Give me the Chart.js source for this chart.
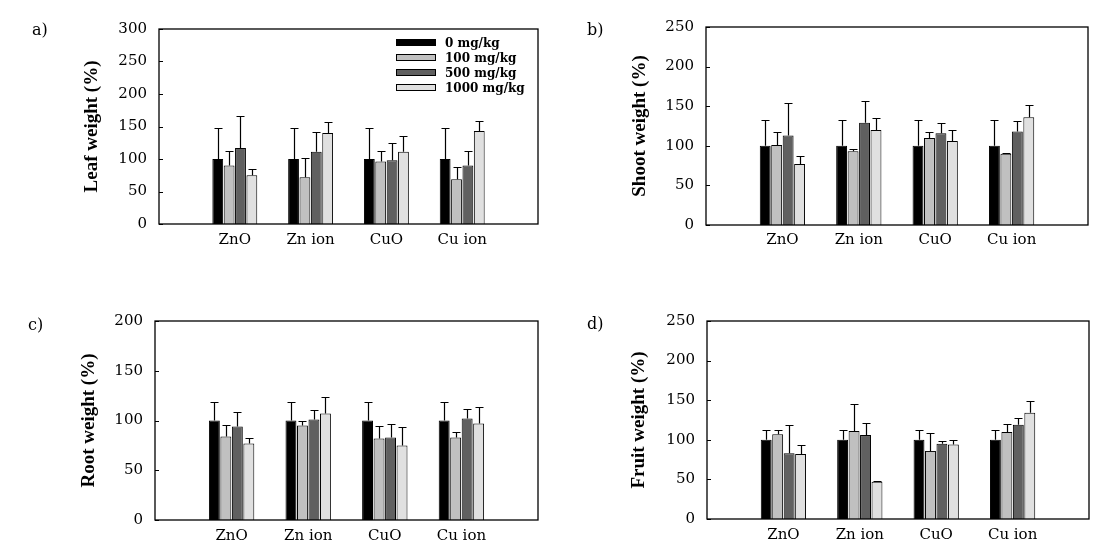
<!DOCTYPE html>
<html lang="en">
<head>
    <meta charset="UTF-8">
    <title>Leaf, shoot, root and fruit weight</title>
    <style>
        body {
            margin: 0;
            background: #fff;
            width: 1120px;
            height: 553px;
            position: relative;
            overflow: hidden;
        }

        canvas {
            position: absolute;
        }

        .panel-label {
            position: absolute;
            font-family: 'DejaVu Serif', serif;
            font-size: 16px;
            color: #000;
            line-height: 1;
        }

        .legend {
            position: absolute;
            left: 396px;
            top: 35px;
            font-family: 'DejaVu Serif', serif;
            font-weight: bold;
            font-size: 12px;
            color: #000;
        }

        .legend div {
            height: 15px;
            display: flex;
            align-items: center;
        }

        .legend span.swatch {
            display: inline-block;
            width: 38px;
            height: 5px;
            border: 1px solid #000;
            margin-right: 9px;
        }
    </style>
</head>
<body>

    <canvas id="chartA" width="560" height="290" style="left:0;top:0"></canvas>
    <canvas id="chartB" width="560" height="290" style="left:560px;top:0"></canvas>
    <canvas id="chartC" width="560" height="263" style="left:0;top:290px"></canvas>
    <canvas id="chartD" width="560" height="263" style="left:560px;top:290px"></canvas>

    <div class="panel-label" style="left:32px;top:22px">a)</div>
    <div class="panel-label" style="left:587px;top:22px">b)</div>
    <div class="panel-label" style="left:28px;top:317px">c)</div>
    <div class="panel-label" style="left:587px;top:316px">d)</div>

    <div class="legend" id="legend"></div>

    <script src="https://cdn.jsdelivr.net/npm/chart.js"></script>

    <script>
        const categories = ['ZnO', 'Zn ion', 'CuO', 'Cu ion'];
        const doses = ['0 mg/kg', '100 mg/kg', '500 mg/kg', '1000 mg/kg'];
        const doseColors = ['#000000', '#c0c0c0', '#606060', '#e0e0e0'];

        // rows = doses, columns = categories; errors are the upper bar length
        const leafMean = [[100, 100, 100, 100], [90, 72, 96, 69], [117, 111, 98, 90], [75, 140, 111, 143]];
        const leafErr = [[48, 48, 48, 48], [22, 29, 17, 18], [49, 30, 26, 22], [9, 17, 24, 16]];

        const shootMean = [[100, 100, 100, 100], [101, 93, 110, 90], [113, 129, 116, 118], [77, 120, 106, 136]];
        const shootErr = [[32, 32, 32, 32], [17, 3, 7, 1], [41, 28, 13, 13], [10, 15, 14, 16]];

        const rootMean = [[100, 100, 100, 100], [84, 95, 82, 83], [94, 101, 83, 102], [77, 107, 75, 97]];
        const rootErr = [[19, 19, 19, 19], [11, 5, 12, 5], [15, 10, 13, 10], [5, 17, 18, 17]];

        const fruitMean = [[100, 100, 100, 100], [107, 111, 86, 110], [83, 106, 95, 119], [82, 47, 94, 134]];
        const fruitErr = [[12, 12, 12, 12], [6, 34, 23, 10], [36, 15, 4, 9], [11, 1, 6, 15]];

        // empty slots on both ends so the groups sit where the original puts them
        const xLabels = [''].concat(categories, ['']);

        // frame around the plot area and inward tick marks on the y axis
        const framePlugin = {
            id: 'frame',
            afterDraw(chart) {
                const ctx = chart.ctx;
                const a = chart.chartArea;
                const y = chart.scales.y;
                ctx.save();
                ctx.strokeStyle = '#000';
                ctx.lineWidth = 1.3;
                ctx.strokeRect(a.left, a.top, a.right - a.left, a.bottom - a.top);
                ctx.lineWidth = 1;
                y.ticks.forEach(t => {
                    const py = Math.round(y.getPixelForValue(t.value)) + 0.5;
                    ctx.beginPath();
                    ctx.moveTo(a.left, py);
                    ctx.lineTo(a.left + 4, py);
                    ctx.stroke();
                });
                ctx.restore();
            }
        };

        // upper error bars with a small cap
        const errorBarPlugin = {
            id: 'errorBars',
            afterDatasetsDraw(chart) {
                const ctx = chart.ctx;
                const y = chart.scales.y;
                ctx.save();
                ctx.strokeStyle = '#000';
                ctx.lineWidth = 1.2;
                chart.data.datasets.forEach((ds, i) => {
                    const meta = chart.getDatasetMeta(i);
                    meta.data.forEach((bar, j) => {
                        const v = ds.data[j];
                        const e = ds.errors[j];
                        if (v == null || e == null) return;
                        const x = Math.round(bar.x) + 0.5;
                        const y0 = y.getPixelForValue(v);
                        const y1 = Math.round(y.getPixelForValue(v + e)) + 0.5;
                        ctx.beginPath();
                        ctx.moveTo(x, y0);
                        ctx.lineTo(x, y1);
                        ctx.moveTo(x - 4, y1);
                        ctx.lineTo(x + 4, y1);
                        ctx.stroke();
                    });
                });
                ctx.restore();
            }
        };

        function makeChart(id, title, means, errs, yMax, box) {
            const datasets = doses.map((d, i) => ({
                label: d,
                data: [null].concat(means[i], [null]),
                errors: [null].concat(errs[i], [null]),
                backgroundColor: doseColors[i],
                borderColor: '#000',
                borderWidth: 1,
                categoryPercentage: 0.6,
                barPercentage: 0.95
            }));

            return new Chart(document.getElementById(id), {
                type: 'bar',
                data: { labels: xLabels, datasets: datasets },
                options: {
                    responsive: false,
                    animation: false,
                    layout: {
                        padding: { left: 0, top: box.top, right: box.right, bottom: box.bottom }
                    },
                    plugins: {
                        legend: { display: false },
                        tooltip: { enabled: false }
                    },
                    scales: {
                        x: {
                            offset: false,
                            grid: { display: false, drawTicks: false, offset: false },
                            border: { display: false },
                            ticks: {
                                autoSkip: false,
                                maxRotation: 0,
                                padding: box.xPad,
                                color: '#000',
                                font: { family: 'DejaVu Serif', size: 15 }
                            },
                            afterFit: s => { s.height = 30; }
                        },
                        y: {
                            min: 0,
                            max: yMax,
                            grid: { display: false, drawTicks: false },
                            border: { display: false },
                            ticks: {
                                stepSize: 50,
                                padding: 12,
                                color: '#000',
                                font: { family: 'DejaVu Serif', size: 15 }
                            },
                            title: {
                                display: true,
                                text: title,
                                color: '#000',
                                padding: { top: box.titlePad, bottom: 0 },
                                font: { family: 'Liberation Serif', size: 19, weight: 'bold' }
                            },
                            afterFit: s => { s.width = box.left; }
                        }
                    }
                },
                plugins: [errorBarPlugin, framePlugin]
            });
        }

        makeChart('chartA', 'Leaf weight (%)', leafMean, leafErr, 300,
            { left: 159, right: 22, top: 29, bottom: 36, xPad: 7, titlePad: 81 });
        makeChart('chartB', 'Shoot weight (%)', shootMean, shootErr, 250,
            { left: 146, right: 32, top: 27, bottom: 35, xPad: 6, titlePad: 69 });
        makeChart('chartC', 'Root weight (%)', rootMean, rootErr, 200,
            { left: 155, right: 22, top: 31, bottom: 3, xPad: 7, titlePad: 78 });
        makeChart('chartD', 'Fruit weight (%)', fruitMean, fruitErr, 250,
            { left: 147, right: 31, top: 31, bottom: 4, xPad: 7, titlePad: 68 });

        // legend for panel a
        const legend = document.getElementById('legend');
        doses.forEach((d, i) => {
            const row = document.createElement('div');
            row.innerHTML = `<span class="swatch" style="background:${doseColors[i]}"></span>${d}`;
            legend.appendChild(row);
        });
    </script>
</body>
</html>
